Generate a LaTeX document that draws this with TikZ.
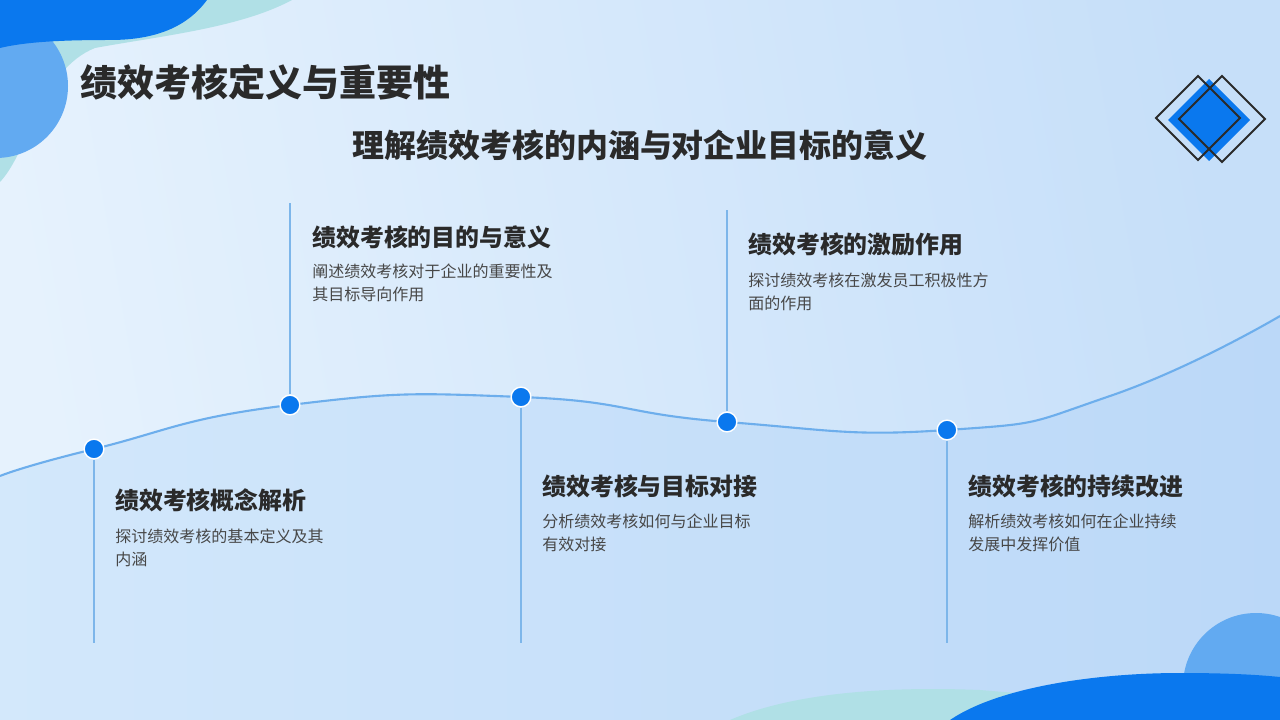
\documentclass[tikz,border=0pt]{standalone}
\usepackage{fontspec}
\newfontfamily\cjk{Noto Sans CJK SC}
\usetikzlibrary{positioning}

\definecolor{deepblue}{HTML}{0A78EE}
\definecolor{midblue}{HTML}{62AAF1}
\definecolor{teal}{HTML}{B0E0E6}
\definecolor{bgA}{HTML}{E6F2FD}
\definecolor{bgB}{HTML}{C6DFF9}
\definecolor{waveA}{HTML}{D3E8FB}
\definecolor{waveB}{HTML}{BBD8F8}
\definecolor{waveline}{HTML}{6DAEEC}
\definecolor{stem}{HTML}{7DB6EA}
\definecolor{ink}{HTML}{2A2A2A}
\definecolor{greyink}{HTML}{474747}

\begin{document}
\begin{tikzpicture}[x=0.025cm, y=-0.025cm,
  dot/.style={circle, fill=deepblue, draw=white, line width=1pt, minimum size=14pt, inner sep=0pt},
  vline/.style={stem, line width=0.9pt},
  itemtitle/.style={anchor=west, inner sep=0pt, text=ink, font=\cjk\bfseries\fontsize{17}{20}\selectfont},
  itemtext/.style={anchor=north west, inner sep=0pt, align=left, text=greyink, font=\cjk\fontsize{11.4}{16.4}\selectfont}]
  \useasboundingbox (0,0) rectangle (1280,720);

  % background
  \shade[left color=bgA, right color=bgB, shading angle=100] (0,0) rectangle (1280,720);
  \shade[left color=waveA, right color=waveB] (0,720) -- (0,476)
    -- plot[smooth, tension=0.9] coordinates {(0,476) (94,449) (290,405) (521,397) (727,422) (947,430) (1110,396) (1280,316)}
    -- (1280,720) -- cycle;
  \draw[waveline, line width=1.5pt] plot[smooth, tension=0.9] coordinates {(0,476) (94,449) (290,405) (521,397) (727,422) (947,430) (1110,396) (1280,316)};

  % corner blobs, top left
  \fill[teal] (0,0) -- (292,0) .. controls (240,28) and (160,36) .. (95,48)
    .. controls (40,70) and (30,150) .. (0,182) -- cycle;
  \fill[midblue] (-4,86) circle (72);
  \fill[deepblue] (0,0) -- (207,0) .. controls (185,30) and (150,40) .. (110,40)
    .. controls (60,40) and (25,42) .. (0,48) -- cycle;

  % corner blobs, bottom right
  \fill[teal] (730,720) .. controls (790,694) and (880,686) .. (980,690) -- (1100,700) -- (1100,720) -- cycle;
  \fill[midblue] (1256,686) circle (73);
  \fill[deepblue] (950,720) .. controls (1000,686) and (1100,673) .. (1180,673)
    .. controls (1230,673) and (1260,675) .. (1280,677) -- (1280,720) -- cycle;

  % diamond icon
  \fill[deepblue] (1209,79) -- (1250,120) -- (1209,161) -- (1168,120) -- cycle;
  \draw[ink, line width=1.3pt] (1198,76) -- (1240,118) -- (1198,160) -- (1156,118) -- cycle;
  \draw[ink, line width=1.3pt] (1222,76) -- (1265,119) -- (1222,162) -- (1179,119) -- cycle;

  % headings
  \node[anchor=west, inner sep=0pt, text=ink, font=\cjk\bfseries\fontsize{26.3}{30}\selectfont] (head) at (80,82) {绩效考核定义与重要性};
  \node[inner sep=0pt, text=ink, font=\cjk\bfseries\fontsize{22.7}{26}\selectfont] (sub) at (640,145) {理解绩效考核的内涵与对企业目标的意义};

  % stems
  \coordinate (e1) at (94,643);
  \coordinate (e2) at (290,203);
  \coordinate (e3) at (521,643);
  \coordinate (e4) at (727,210);
  \coordinate (e5) at (947,643);
  \node[dot] (d1) at (94,449) {};
  \node[dot] (d2) at (290,405) {};
  \node[dot] (d3) at (521,397) {};
  \node[dot] (d4) at (727,422) {};
  \node[dot] (d5) at (947,430) {};
  \foreach \i in {1,...,5}
    \draw[vline] (d\i) -- (e\i);

  % items
  \node[itemtitle] (t1) at (115,500) {绩效考核概念解析};
  \node[itemtext] (p1) at (115,529) {探讨绩效考核的基本定义及其\\内涵};
  \node[itemtitle] (t2) at (312,237) {绩效考核的目的与意义};
  \node[itemtext] (p2) at (312,264) {阐述绩效考核对于企业的重要性及\\其目标导向作用};
  \node[itemtitle] (t3) at (542,486) {绩效考核与目标对接};
  \node[itemtext] (p3) at (542,514) {分析绩效考核如何与企业目标\\有效对接};
  \node[itemtitle] (t4) at (748,244) {绩效考核的激励作用};
  \node[itemtext] (p4) at (748,273) {探讨绩效考核在激发员工积极性方\\面的作用};
  \node[itemtitle] (t5) at (968,486) {绩效考核的持续改进};
  \node[itemtext] (p5) at (968,514) {解析绩效考核如何在企业持续\\发展中发挥价值};
\end{tikzpicture}
\end{document}
